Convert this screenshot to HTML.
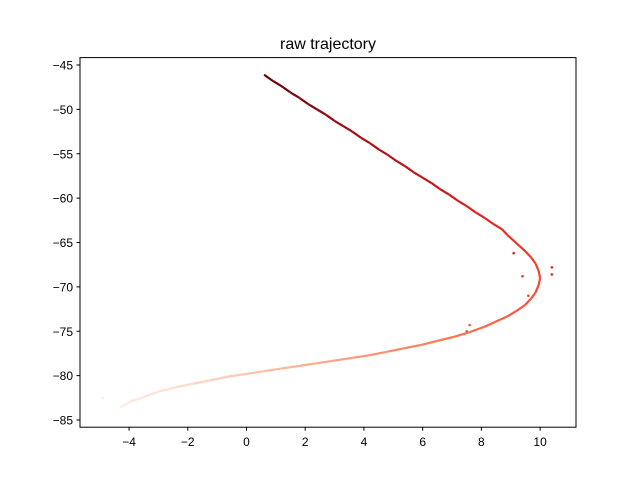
<!DOCTYPE html>
<html><head><meta charset="utf-8"><style>
body{margin:0;background:#fff}
svg{display:block;font-family:"Liberation Sans","DejaVu Sans",sans-serif}
</style></head><body>
<svg id="chart" width="640" height="480">
<rect width="640" height="480" fill="#fff"/>
<text x="328" y="49" text-anchor="middle" font-size="16">raw trajectory</text>
<g id="marks"></g>
<g id="xaxis"></g>
<g id="yaxis"></g>
<rect x="80" y="57.6" width="496" height="369.6" fill="none" stroke="#000" stroke-width="1"/>
</svg>
<script>
const xVals=[0.6,0.9,1.2,1.5,1.8,2.1,2.4,2.7,3.0,3.3,3.6,3.9,4.2,4.5,4.8,5.1,5.4,5.7,6.0,6.3,6.6,6.9,7.2,7.5,7.8,8.1,8.4,8.7,8.9,9.1,9.3,9.5,9.7,9.85,9.95,10.0,9.95,9.85,9.7,9.5,9.2,8.9,8.5,8.1,7.6,7.1,6.6,6.0,5.4,4.8,4.2,3.6,3.0,2.4,1.8,1.2,0.6,0.0,-0.6,-1.2,-1.8,-2.4,-3.0,-3.5,-4.0,-4.3];
const yVals=[-46.1,-46.8,-47.4,-48.1,-48.7,-49.4,-50.0,-50.6,-51.3,-51.9,-52.5,-53.2,-53.8,-54.5,-55.1,-55.8,-56.4,-57.1,-57.7,-58.3,-59.0,-59.6,-60.3,-60.9,-61.6,-62.2,-62.9,-63.5,-64.2,-64.8,-65.4,-66.0,-66.7,-67.4,-68.2,-69.0,-69.8,-70.6,-71.3,-72.0,-72.7,-73.3,-73.9,-74.5,-75.1,-75.6,-76.0,-76.5,-76.9,-77.3,-77.7,-78.0,-78.3,-78.6,-78.9,-79.2,-79.5,-79.8,-80.1,-80.5,-80.9,-81.3,-81.8,-82.4,-83.0,-83.6];
const outX=[10.4,10.4,9.6,9.4,9.1,7.6,7.5,-4.9,-3.9];
const outY=[-67.8,-68.6,-71.0,-68.8,-66.2,-74.3,-75.0,-82.5,-82.8];
const outT=[0.66,0.66,0.6,0.63,0.72,0.55,0.55,0.05,0.1];
const xTicks=[-4,-2,0,2,4,6,8,10];
const yTicks=[-45,-50,-55,-60,-65,-70,-75,-80,-85];
const NS="http://www.w3.org/2000/svg";
function sx(v){return 246.5+v*29.36;}
function sy(v){return 65+(-45-v)*8.875;}
const stops=[[255,245,240],[254,224,210],[252,187,161],[252,146,114],[251,106,74],[239,59,44],[203,24,29],[165,15,21],[103,0,13]];
function cmap(t){t=Math.max(0,Math.min(1,t));const p=t*(stops.length-1),i=Math.min(Math.floor(p),stops.length-2),f=p-i;const a=stops[i],b=stops[i+1];return `rgb(${a.map((c,k)=>Math.round(c+(b[k]-c)*f)).join(',')})`;}
const n=xVals.length;
const cum=[0];
for(let i=1;i<n;i++){cum.push(cum[i-1]+Math.hypot(sx(xVals[i])-sx(xVals[i-1]),sy(yVals[i])-sy(yVals[i-1])));}
const total=cum[n-1];
function tAt(i){return 1-cum[i]/total*0.95;}
const marks=document.getElementById('marks');
for(let i=0;i<n-1;i++){
  const l=document.createElementNS(NS,'line');
  l.setAttribute('x1',sx(xVals[i]));l.setAttribute('y1',sy(yVals[i]));
  l.setAttribute('x2',sx(xVals[i+1]));l.setAttribute('y2',sy(yVals[i+1]));
  l.setAttribute('stroke',cmap(tAt(i)));l.setAttribute('stroke-width','2.2');
  
  
  marks.appendChild(l);
}
for(let i=0;i<outX.length;i++){
  const c=document.createElementNS(NS,'circle');
  c.setAttribute('cx',sx(outX[i]));c.setAttribute('cy',sy(outY[i]));c.setAttribute('r','1.3');
  c.setAttribute('fill',cmap(outT[i]));
  
  
  marks.appendChild(c);
}
const xa=document.getElementById('xaxis');
xTicks.forEach(v=>{
  const x=sx(v);
  const t=document.createElementNS(NS,'line');
  t.setAttribute('x1',x);t.setAttribute('x2',x);t.setAttribute('y1',427.2);t.setAttribute('y2',430.7);t.setAttribute('stroke','#000');
  
  
  xa.appendChild(t);
  const s=document.createElementNS(NS,'text');
  s.setAttribute('x',x);s.setAttribute('y',446);s.setAttribute('text-anchor','middle');s.setAttribute('font-size','12');
  s.textContent=(v<0?'\u2212'+(-v):v);
  
  
  xa.appendChild(s);
});
const ya=document.getElementById('yaxis');
yTicks.forEach(v=>{
  const y=sy(v);
  const t=document.createElementNS(NS,'line');
  t.setAttribute('x1',76.5);t.setAttribute('x2',80);t.setAttribute('y1',y);t.setAttribute('y2',y);t.setAttribute('stroke','#000');
  
  
  ya.appendChild(t);
  const s=document.createElementNS(NS,'text');
  s.setAttribute('x',73);s.setAttribute('y',y+4.5);s.setAttribute('text-anchor','end');s.setAttribute('font-size','12');
  s.textContent='\u2212'+(-v);
  
  
  ya.appendChild(s);
});
</script>
</body></html>
